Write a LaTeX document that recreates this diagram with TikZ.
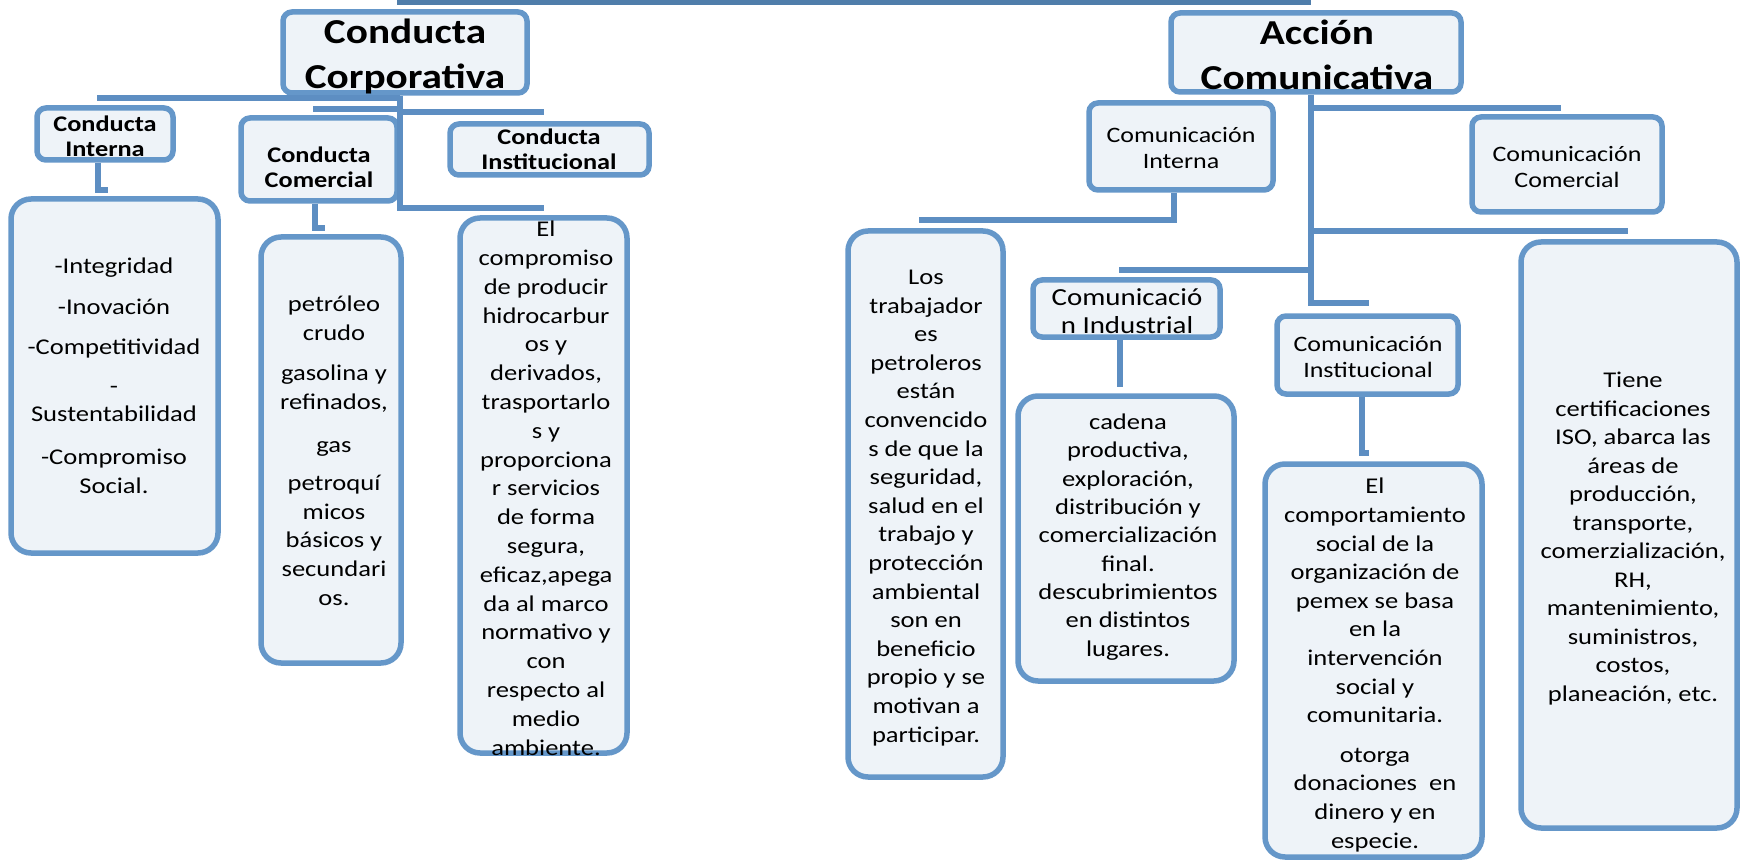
\documentclass[tikz,border=0pt]{standalone}
\usepackage{fontspec}
\setmainfont{Carlito}[FakeStretch=1.18]
\definecolor{bordblue}{HTML}{6597C9}
\definecolor{linblue}{HTML}{5D8EC2}
\definecolor{topblue}{HTML}{4F7DAA}
\definecolor{boxfill}{HTML}{EEF3F8}
\newcommand\fsz[2]{\fontsize{#1}{#2}\selectfont}
\tikzset{
  boxbase/.style={draw=bordblue, fill=boxfill, line width=5.5pt, inner sep=0pt},
  hdrbox/.style={boxbase, rounded corners=9pt},
  txtbox/.style={boxbase, rounded corners=20pt},
  conn/.style={draw=linblue, line width=5.5pt},
  lbl/.style={anchor=base, align=center, inner sep=0pt, text=black},
  titletxt/.style={lbl, font=\fsz{35}{45}\bfseries},
  hdrtxt/.style={lbl, font=\fsz{22.3}{25.5}\bfseries},
  comtxt/.style={lbl, font=\fsz{22}{26}},
  bodytxt/.style={lbl, font=\fsz{22.5}{28.6}},
}
\begin{document}
\begin{tikzpicture}[x=1pt,y=-1pt]
\useasboundingbox (0,0) rectangle (1741,861);
% junction coordinates
\coordinate (topL) at (397,2.5);
\coordinate (topR) at (1311,2.5);
\coordinate (stemL) at (400,208);
\coordinate (hA) at (97,98);
\coordinate (hB) at (313,109);
\coordinate (hC) at (544,112);
\coordinate (ciA) at (98,190);
\coordinate (ciB) at (108,190);
\coordinate (ccA) at (315,228);
\coordinate (ccB) at (325,228);
\coordinate (stemR) at (1311,303);
\coordinate (stemRE) at (1369,303);
\coordinate (hD) at (1561,108);
\coordinate (hE) at (1628,231);
\coordinate (hF) at (1119,270);
\coordinate (miA) at (1174,220);
\coordinate (miB) at (919,220);
\coordinate (mdA) at (1120,387);
\coordinate (msA) at (1362,453);
\coordinate (msB) at (1369,453);

% boxes
\node[hdrbox, minimum width=244pt, minimum height=81pt] (corp) at (405,52.5) {};
\node[hdrbox, minimum width=136pt, minimum height=52pt] (cint) at (105,134) {};
\node[hdrbox, minimum width=156pt, minimum height=83pt] (ccom) at (319,159.5) {};
\node[hdrbox, minimum width=199pt, minimum height=51pt] (cinst) at (549.5,149.5) {};
\node[txtbox, minimum width=207pt, minimum height=354pt] (vals) at (114.5,376) {};
\node[txtbox, minimum width=140pt, minimum height=426pt] (petro) at (331,450) {};
\node[txtbox, minimum width=167pt, minimum height=535pt] (compro) at (543.5,485.5) {};
\node[hdrbox, minimum width=290pt, minimum height=79pt] (acc) at (1316,52.5) {};
\node[hdrbox, minimum width=184pt, minimum height=87pt] (mint) at (1181,146.5) {};
\node[hdrbox, minimum width=190pt, minimum height=95pt] (mcom) at (1567,164.5) {};
\node[hdrbox, minimum width=187pt, minimum height=57pt] (mind) at (1126.5,308.5) {};
\node[hdrbox, minimum width=181pt, minimum height=78pt] (minst) at (1367.5,355) {};
\node[txtbox, minimum width=155pt, minimum height=546pt] (trab) at (925.5,504) {};
\node[txtbox, minimum width=216pt, minimum height=285pt] (cadena) at (1126,538.5) {};
\node[txtbox, minimum width=217pt, minimum height=393pt] (comport) at (1373.5,660.5) {};
\node[txtbox, minimum width=216pt, minimum height=586pt] (tiene) at (1629,535) {};

% connectors
\draw[draw=topblue, line width=5pt] (topL) -- (topR);
\draw[conn] (stemL |- corp.south) -- (stemL) -- (stemL -| compro.north);
\draw[conn] (hA) -- (hA -| stemL);
\draw[conn] (hB) -- (hB -| stemL);
\draw[conn] (hC -| stemL) -- (hC);
\draw[conn] (ciA |- cint.south) -- (ciA) -- (ciB);
\draw[conn] (ccA |- ccom.south) -- (ccA) -- (ccB);
\draw[conn] (stemR |- acc.south) -- (stemR) -- (stemRE);
\draw[conn] (hD -| stemR) -- (hD);
\draw[conn] (hE -| stemR) -- (hE);
\draw[conn] (hF) -- (hF -| stemR);
\draw[conn] (miA |- mint.south) -- (miA) -- (miB);
\draw[conn] (mdA |- mind.south) -- (mdA);
\draw[conn] (msA |- minst.south) -- (msA) -- (msB);

% texts (anchor base = baseline of the last line)
\node[titletxt] (corpT) at (405,89) {Conducta\\Corporativa};
\node[titletxt] (accT) at (1317,90) {Acción\\Comunicativa};
\node[hdrtxt] (cintT) at (105,157) {Conducta\\Interna};
\node[hdrtxt] (ccomT) at (319,188) {Conducta\\Comercial};
\node[hdrtxt] (cinstT) at (549,170) {Conducta\\Institucional};
\node[comtxt] (mintT) at (1181,169) {Comunicación\\Interna};
\node[comtxt] (mcomT) at (1567,188) {Comunicación\\Comercial};
\node[lbl, font=\fsz{24.5}{28}] (mindT) at (1127,333) {Comunicació\\n Industrial};
\node[comtxt] (minstT) at (1368,377) {Comunicación\\Institucional};

\node[bodytxt] (valsT) at (114,493) {-Integridad\\[12pt]-Inovación\\[12pt]-Competitividad\\[10pt]-\\Sustentabilidad\\[14pt]-Compromiso\\Social.};
\node[bodytxt] (petroT) at (334,605) {petróleo\\crudo\\[12pt]gasolina y\\refinados,\\[14pt]gas\\[10pt]petroquí\\micos\\básicos y\\secundari\\os.};
\node[bodytxt, font=\fsz{22.5}{28.8}] (comproT) at (546,755) {El\\compromiso\\de producir\\hidrocarbur\\os y\\derivados,\\trasportarlo\\s y\\proporciona\\r servicios\\de forma\\segura,\\eficaz,apega\\da al marco\\normativo y\\con\\respecto al\\medio\\ambiente.};
\node[bodytxt] (trabT) at (926,742) {Los\\trabajador\\es\\petroleros\\están\\convencido\\s de que la\\seguridad,\\salud en el\\trabajo y\\protección\\ambiental\\son en\\beneficio\\propio y se\\motivan a\\participar.};
\node[bodytxt, font=\fsz{22.5}{28.3}] (cadenaT) at (1128,656) {cadena\\productiva,\\exploración,\\distribución y\\comercialización\\final.\\descubrimientos\\en distintos\\lugares.};
\node[bodytxt] (comportT) at (1375,848) {El\\comportamiento\\social de la\\organización de\\pemex se basa\\en la\\intervención\\social y\\comunitaria.\\[11pt]otorga\\donaciones\ \ en\\dinero y en\\especie.};
\node[bodytxt, font=\fsz{22.5}{28.5}] (tieneT) at (1633,701) {Tiene\\certificaciones\\ISO, abarca las\\áreas de\\producción,\\transporte,\\comerzialización,\\RH,\\mantenimiento,\\suministros,\\costos,\\planeación, etc.};
\end{tikzpicture}
\end{document}
